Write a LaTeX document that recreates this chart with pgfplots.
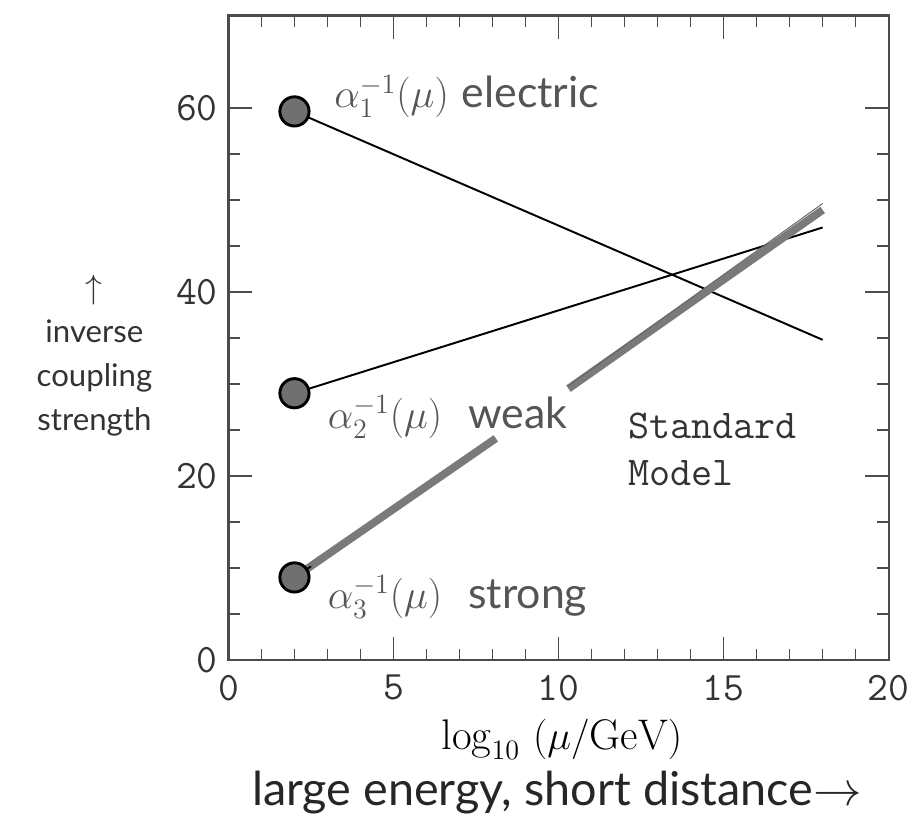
\documentclass[border=0pt]{standalone}
\usepackage{fontspec}
\setsansfont{Lato}
\usepackage{pgfplots}
\pgfplotsset{compat=1.18}
\definecolor{txtgray}{HTML}{555555}
\definecolor{dotgray}{HTML}{707070}
\definecolor{bandgray}{HTML}{7A7A7A}
\begin{document}
\begin{tikzpicture}
\begin{axis}[
  scale only axis,
  width=339pt, height=331pt,
  xmin=0, xmax=20, ymin=0, ymax=70,
  xtick={0,5,10,15,20}, ytick={0,20,40,60},
  minor x tick num=4, minor y tick num=3,
  tick align=inside,
  major tick length=12pt, minor tick length=6pt,
  every tick/.style={black!70, line width=0.8pt},
  axis line style={black!70, line width=1.2pt},
  tick label style={font=\ttfamily\huge, text=black!80},
  /pgf/number format/assume math mode=true,
  xticklabel style={yshift=-4pt},
  yticklabel style={xshift=-2pt},
  clip=false,
]
% page frame (keeps the reference's margins)
\path (axis cs:-6.92,71.7) rectangle (axis cs:20.63,-17.9);
% electric
\addplot[black, line width=1pt, mark=*, mark indices={1},
  mark options={mark size=7.5pt, fill=dotgray, draw=black, line width=1.5pt}]
  coordinates {(2,59.6) (18,34.8)};
% weak
\addplot[black, line width=1pt, mark=*, mark indices={1},
  mark options={mark size=7.5pt, fill=dotgray, draw=black, line width=1.5pt}]
  coordinates {(2,29.0) (18,47.0)};
% strong band (broken at the weak label)
\addplot[bandgray, line width=4pt] coordinates {(2,9.0) (8.1,24.1)};
\addplot[bandgray, line width=4pt] coordinates {(10.3,29.5) (18,48.9)};
\addplot[black!60, line width=0.5pt] coordinates {(10.3,29.8) (18,49.6)};
\addplot[black, line width=0.9pt, mark=*, mark indices={1},
  mark options={mark size=7.5pt, fill=dotgray, draw=black, line width=1.5pt}]
  coordinates {(2,9.0) (2.5,10.2)};

\node[anchor=base west, text=txtgray, font=\fontsize{22}{26}\selectfont, inner sep=0pt]
  at (axis cs:3.2,60.0) {$\alpha_1^{-1}(\mu)$ \sffamily electric};
\node[anchor=base west, text=txtgray, font=\fontsize{22}{26}\selectfont, inner sep=0pt]
  at (axis cs:3.0,25.2) {$\alpha_2^{-1}(\mu)$\ \ \sffamily weak};
\node[anchor=base west, text=txtgray, font=\fontsize{22}{26}\selectfont, inner sep=0pt]
  at (axis cs:3.0,5.65) {$\alpha_3^{-1}(\mu)$\ \ \sffamily strong};
\node[anchor=base west, align=left, font=\ttfamily\fontsize{21}{24}\selectfont,
  text=black!80, inner sep=0pt] at (axis cs:12.1,19.0) {Standard\\Model};

\node[align=center, font=\sffamily\fontsize{16}{22.5}\selectfont, text=black!80]
  at (axis cs:-4.06,33.1) {$\uparrow$\\inverse\\coupling\\strength};
\node[font=\fontsize{22}{26}\selectfont, inner sep=1pt] at (axis cs:10.1,-8.6)
  {$\log_{10}\ (\mu/\mathrm{GeV})$};
\node[font=\sffamily\fontsize{24}{28}\selectfont, text=black!85, inner sep=1pt]
  at (axis cs:9.95,-14.4) {large energy, short distance$\rightarrow$};
\end{axis}
\end{tikzpicture}
\end{document}
